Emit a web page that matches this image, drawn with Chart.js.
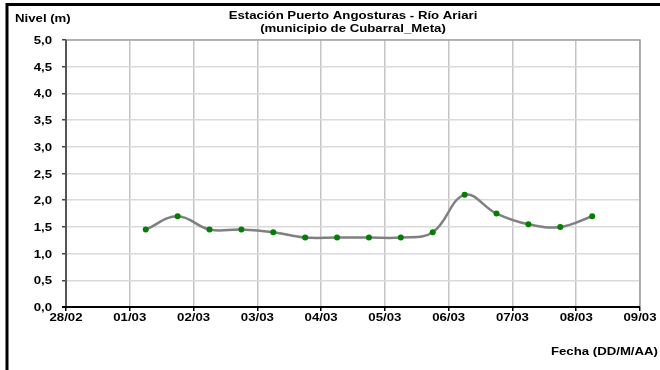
<!DOCTYPE html>
<html>
<head>
<meta charset="utf-8">
<script src="https://cdn.jsdelivr.net/npm/chart.js@4"></script>
<style>
  html, body { margin: 0; padding: 0; background: #fff; }
  #wrap { position: relative; width: 660px; height: 370px; }
</style>
</head>
<body>
<div id="wrap"><canvas id="chart" width="660" height="370"></canvas></div>
<script>
'use strict';

// day axis labels (0 = 28/02 ... 9 = 09/03)
let dayLabels = ['28/02', '01/03', '02/03', '03/03', '04/03', '05/03', '06/03', '07/03', '08/03', '09/03'];

// readings every 12 h, position in days from 28/02
let readingDays = [1.25, 1.75, 2.25, 2.75, 3.25, 3.75, 4.25, 4.75, 5.25, 5.75, 6.25, 6.75, 7.25, 7.75, 8.25];
let levels = [1.45, 1.7, 1.45, 1.45, 1.4, 1.3, 1.3, 1.3, 1.3, 1.4, 2.1, 1.75, 1.55, 1.5, 1.7];

let titleLines = ['Estación Puerto Angosturas - Río Ariari', '(municipio de Cubarral_Meta)'];
let yTitle = 'Nivel (m)';
let xTitle = 'Fecha (DD/M/AA)';

let fontFamily = '"Liberation Sans", Arial, sans-serif';
let textStretch = 1.2; // the original text is a bit wide

let canvasElem = document.getElementById('chart');

function wideText(ctx, text, x, y, align) {
  ctx.save();
  ctx.translate(x, y);
  ctx.scale(textStretch, 1);
  ctx.textAlign = align;
  ctx.fillText(text, 0, 0);
  ctx.restore();
}

// frame, plot border, tick labels and the free texts
let decorations = {
  id: 'decorations',
  beforeDraw(chart) {
    let ctx = chart.ctx;
    ctx.save();
    ctx.fillStyle = '#fff';
    ctx.fillRect(0, 0, chart.width, chart.height);
    ctx.strokeStyle = '#000';
    ctx.lineWidth = 3;
    ctx.beginPath();
    ctx.moveTo(7, 400);
    ctx.lineTo(7, 4.5);
    ctx.lineTo(700, 4.5);
    ctx.stroke();
    ctx.restore();
  },
  afterDatasetsDraw(chart) {
    let ctx = chart.ctx;
    let area = chart.chartArea;
    let xScale = chart.scales.x;
    let yScale = chart.scales.y;
    ctx.save();
    // gray right / top plot border
    ctx.strokeStyle = '#a0a0a0';
    ctx.lineWidth = 1.5;
    ctx.beginPath();
    ctx.moveTo(area.left, area.top);
    ctx.lineTo(area.right, area.top);
    ctx.lineTo(area.right, area.bottom);
    ctx.stroke();
    // axes
    ctx.strokeStyle = '#555';
    ctx.lineWidth = 2;
    ctx.beginPath();
    ctx.moveTo(area.left, area.top);
    ctx.lineTo(area.left, area.bottom);
    ctx.stroke();
    ctx.strokeStyle = '#000';
    ctx.beginPath();
    ctx.moveTo(area.left - 4, area.bottom);
    ctx.lineTo(area.right, area.bottom);
    ctx.stroke();

    ctx.fillStyle = '#000';
    ctx.font = 'bold 11px ' + fontFamily;
    ctx.textBaseline = 'middle';

    // tick labels from the scales
    xScale.ticks.forEach((t) => {
      wideText(ctx, dayLabels[t.value], xScale.getPixelForValue(t.value), area.bottom + 11, 'center');
    });
    yScale.ticks.forEach((t) => {
      let label = t.value.toFixed(1).replace('.', ',');
      wideText(ctx, label, area.left - 14, yScale.getPixelForValue(t.value) + 1, 'right');
    });

    let cx = (area.left + area.right) / 2;
    wideText(ctx, titleLines[0], cx, 16, 'center');
    wideText(ctx, titleLines[1], cx, 29, 'center');
    wideText(ctx, yTitle, 15, 19, 'left');
    wideText(ctx, xTitle, 658, 352, 'right');
    ctx.restore();
  }
};

function renderChart() {
  new Chart(canvasElem, {
    type: 'line',
    data: {
      datasets: [{
        label: yTitle,
        data: readingDays.map((d, i) => ({ x: d, y: levels[i] })),
        borderColor: '#808080',
        borderWidth: 2.5,
        tension: 0.4,
        pointRadius: 3,
        pointBorderWidth: 0,
        pointBackgroundColor: '#008000',
        pointHoverRadius: 3
      }]
    },
    plugins: [decorations],
    options: {
      responsive: false,
      animation: false,
      events: [],
      layout: { padding: { left: 10, right: 20, top: 40, bottom: 43 } },
      plugins: {
        legend: { display: false },
        tooltip: { enabled: false }
      },
      scales: {
        x: {
          type: 'linear',
          min: 0,
          max: 9,
          afterFit: (scale) => { scale.height = 20; },
          afterBuildTicks: (scale) => {
            scale.ticks = dayLabels.map((_, i) => ({ value: i }));
          },
          border: { display: false },
          grid: { color: '#c4c4c4', lineWidth: 1.5, tickColor: '#000', tickLength: 4, tickWidth: 1.5 },
          ticks: { display: false }
        },
        y: {
          min: 0,
          max: 5,
          afterFit: (scale) => { scale.width = 56; },
          border: { display: false },
          grid: { color: '#dadada', lineWidth: 1.5, tickColor: '#444', tickLength: 4, tickWidth: 1.5 },
          ticks: { display: false, stepSize: 0.5 }
        }
      }
    }
  });
}

renderChart();
</script>
</body>
</html>
